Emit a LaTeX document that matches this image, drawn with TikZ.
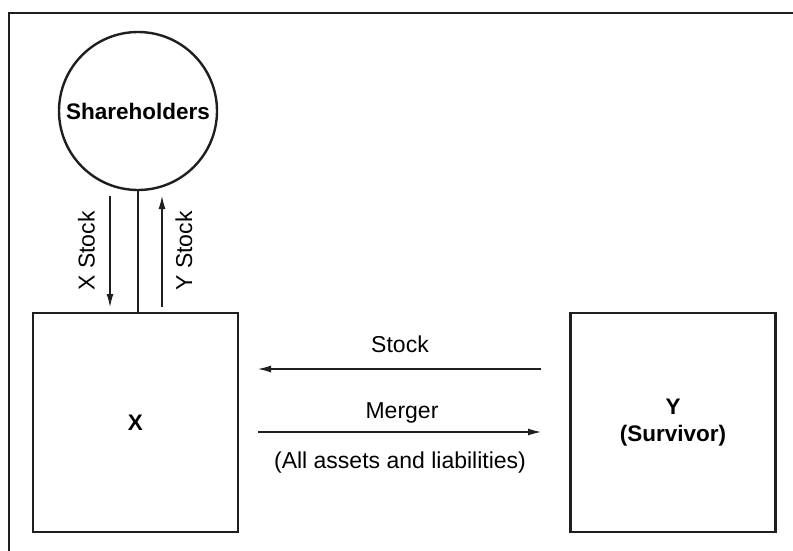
\documentclass[tikz,border=0pt]{standalone}
\usepackage{fontspec}
\setmainfont{Liberation Sans}
\usetikzlibrary{arrows.meta}
\begin{document}
\begin{tikzpicture}[x=1pt,y=-1pt,
  thick line/.style={line width=2.6pt, draw=black!88},
  entity/.style={thick line, minimum width=205pt, minimum height=219pt, inner sep=0pt, font=\bfseries\fontsize{22.5}{27}\selectfont, align=center},
  holder/.style={line width=2.4pt, draw=black!88, circle, minimum size=158pt, inner sep=0pt, font=\bfseries\fontsize{22.5}{27}\selectfont},
  flow/.style={line width=1.1pt, draw=black!88, -{Latex[length=13pt,width=7pt]}},
  lbl/.style={font=\fontsize{23}{27}\selectfont, inner sep=0pt}
]
\useasboundingbox (0,0) rectangle (793,551);
% outer frame (top and left edges)
\draw[thick line] (9,551) -- (9,13) -- (793,13);
% parties
\node[holder] (sh) at (138,111) {Shareholders};
\node[entity] (x) at (135.5,422.5) {X};
\node[entity] (y) at (673,422.5) {Y\\(Survivor)};
% shareholders' link to X
\draw[thick line] (sh.south) -- (sh.south |- x.north);
% stock exchange with shareholders
\coordinate (xs1) at (110,196);
\coordinate (xs2) at (110,307);
\coordinate (ys1) at (162,307);
\coordinate (ys2) at (162,196);
\draw[flow] (xs1) -- (xs2);
\draw[flow] (ys1) -- (ys2);
\node[lbl, rotate=90] (xsl) at (86.5,251) {X Stock};
\node[lbl, rotate=90] (ysl) at (184,251) {Y Stock};
% flows between X and Y
\coordinate (s1) at (541,369);
\coordinate (s2) at (258,369);
\coordinate (m1) at (258,432);
\coordinate (m2) at (541,432);
\draw[flow] (s1) -- (s2);
\draw[flow] (m1) -- (m2);
\node[lbl] (sl) at (400,344) {Stock};
\node[lbl] (ml) at (402,413) {Merger};
\node[lbl] (al) at (400,463) {(All assets and liabilities)};
\end{tikzpicture}
\end{document}
